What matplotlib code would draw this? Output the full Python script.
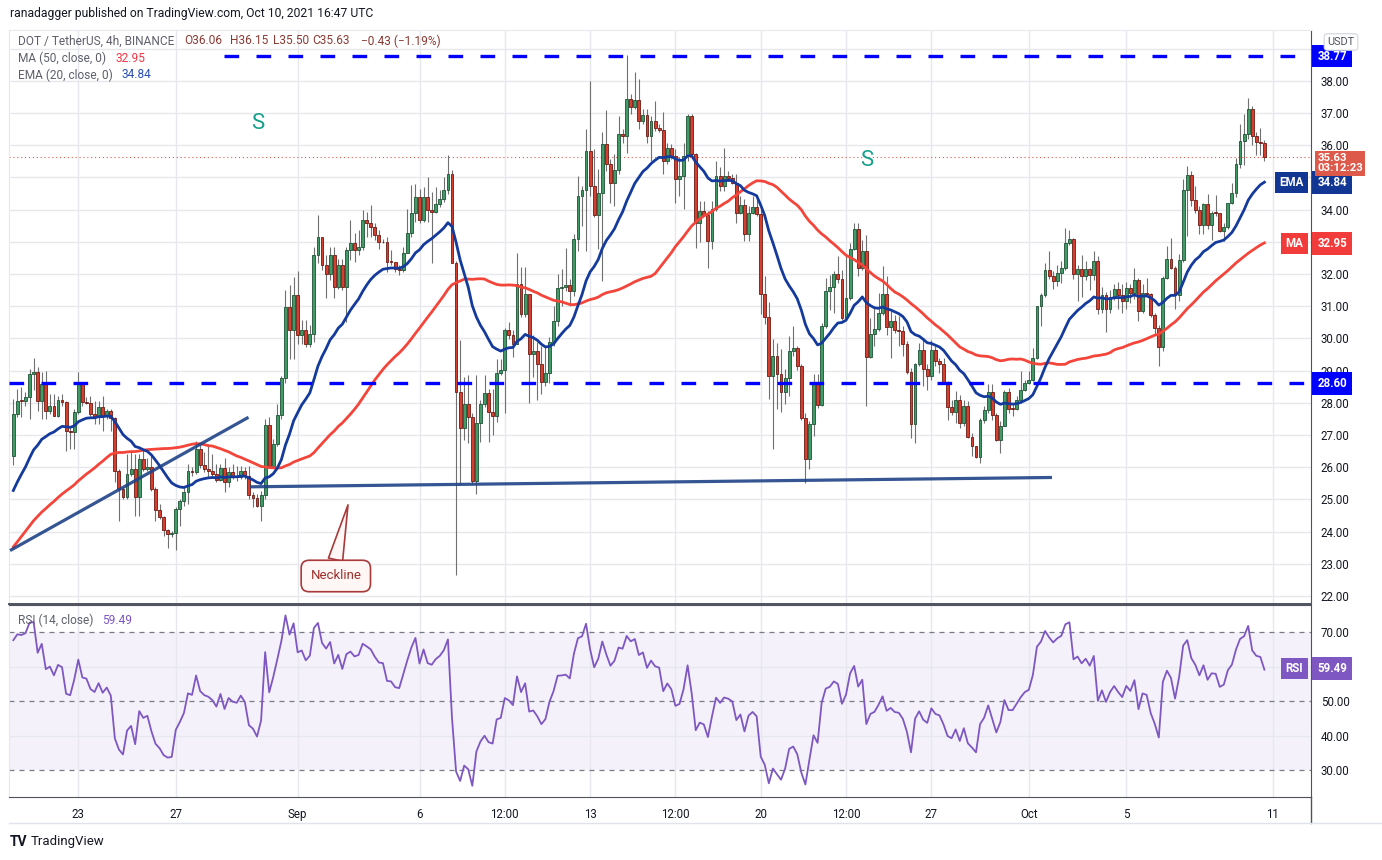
import matplotlib.pyplot as plt
import matplotlib.transforms as mtransforms
from matplotlib.lines import Line2D
import numpy as np
import pandas as pd

plt.rcParams['font.family'] = ['Roboto', 'DejaVu Sans']

# DOT / USDT, 4h candles on Binance, first visible bar opens 2021-08-20 08:00 UTC
start_time = '2021-08-20 08:00'
first_open = 26.36

closes = [
    27.65, 28.07, 28.05, 28.17, 28.90, 28.95, 28.07, 28.59, 27.76, 27.89,
    27.60, 28.09, 28.02, 27.13, 27.08, 27.70, 28.64, 28.04, 28.00, 27.65,
    27.55, 27.88, 27.58, 27.76, 27.52, 25.89, 25.32, 25.06, 25.79, 25.94,
    25.08, 26.25, 25.94, 26.02, 25.32, 24.68, 24.44, 24.06, 23.92, 23.94,
    24.70, 24.94, 25.22, 25.89, 25.84, 26.56, 26.07, 25.94, 25.89, 25.79,
    25.60, 25.96, 25.53, 25.84, 25.74, 25.71, 25.89, 25.74, 25.13, 25.03,
    24.80, 25.13, 27.31, 26.05, 26.72, 27.62, 28.76, 30.98, 30.25, 31.34,
    30.10, 30.25, 29.82, 30.15, 32.60, 33.15, 32.27, 32.01, 32.58, 31.60,
    32.27, 31.60, 32.74, 32.95, 32.74, 32.84, 33.67, 33.57, 33.46, 33.20,
    33.00, 32.98, 32.38, 32.36, 32.17, 32.14, 32.66, 33.26, 33.88, 34.40,
    33.67, 34.40, 33.98, 33.93, 34.19, 34.34, 34.60, 35.12, 32.35, 28.34,
    27.23, 27.95, 27.56, 25.57, 27.36, 27.95, 28.29, 27.72, 27.60, 28.94,
    29.03, 30.25, 30.10, 29.82, 31.70, 30.77, 31.39, 29.53, 29.60, 29.20,
    28.65, 28.92, 29.90, 30.55, 31.58, 31.60, 31.65, 31.48, 33.10, 34.43,
    34.60, 35.83, 34.72, 33.84, 34.51, 36.05, 35.41, 34.84, 35.23, 36.34,
    36.29, 37.43, 37.20, 37.40, 36.74, 36.93, 36.29, 36.76, 36.53, 36.48,
    35.52, 35.91, 35.67, 34.95, 35.03, 35.67, 36.91, 35.72, 33.58, 33.96,
    33.84, 33.03, 34.01, 35.03, 34.74, 35.03, 34.97, 34.84, 33.91, 34.15,
    33.24, 33.91, 34.07, 33.86, 31.37, 30.68, 28.84, 29.46, 28.89, 28.32,
    28.76, 29.60, 29.70, 29.13, 27.53, 26.25, 27.35, 28.57, 27.94, 30.38,
    31.46, 31.60, 32.01, 31.86, 30.64, 31.24, 32.79, 33.41, 32.19, 32.71,
    29.42, 30.15, 30.30, 30.79, 31.39, 30.36, 30.55, 30.27, 30.22, 29.83,
    28.96, 27.34, 29.19, 29.65, 29.05, 28.82, 29.65, 29.29, 29.20, 28.64,
    27.87, 27.72, 28.10, 27.37, 27.91, 26.94, 26.65, 26.32, 27.48, 27.77,
    28.34, 27.63, 26.84, 27.29, 28.34, 27.82, 27.81, 28.10, 28.39, 28.62,
    28.72, 29.39, 31.00, 31.36, 32.14, 31.93, 31.77, 32.03, 32.19, 32.96,
    33.10, 32.01, 32.16, 31.95, 32.17, 31.97, 32.41, 30.91, 31.35, 30.90,
    31.30, 31.55, 31.34, 31.17, 31.58, 31.42, 31.81, 30.85, 31.42, 31.37,
    30.73, 30.31, 29.72, 31.89, 32.48, 32.20, 31.34, 32.43, 34.61, 35.07,
    34.30, 34.00, 33.53, 34.17, 33.52, 33.91, 33.89, 33.34, 33.45, 34.20,
    34.51, 35.41, 36.14, 36.34, 37.12, 36.29, 36.10, 36.06, 35.63,
]

highs = [
    28.12, 28.43, 28.48, 28.33, 29.05, 29.39, 29.10, 28.95, 29.00, 28.27,
    28.27, 28.22, 28.27, 28.07, 27.29, 27.81, 28.95, 28.66, 28.17, 28.22,
    28.07, 28.07, 28.22, 27.81, 27.81, 27.55, 25.95, 25.37, 26.41, 26.46,
    26.41, 26.41, 26.56, 26.30, 26.36, 25.37, 24.85, 24.49, 24.08, 24.03,
    24.75, 25.01, 25.42, 26.10, 26.00, 26.82, 26.72, 26.46, 26.72, 26.41,
    26.10, 26.10, 26.30, 26.00, 26.10, 26.05, 26.05, 26.00, 26.05, 25.22,
    25.17, 25.27, 27.50, 27.55, 26.88, 27.96, 28.84, 31.50, 31.67, 31.91,
    32.09, 30.57, 30.57, 30.41, 32.84, 33.83, 33.15, 32.58, 32.84, 32.84,
    32.48, 32.48, 32.84, 33.67, 33.26, 33.36, 33.98, 33.93, 34.14, 33.57,
    33.36, 33.10, 33.15, 32.74, 32.38, 32.27, 32.84, 34.03, 34.76, 34.81,
    34.65, 34.71, 35.02, 34.55, 34.71, 34.60, 35.02, 35.69, 35.22, 32.40,
    29.96, 28.81, 28.86, 27.67, 28.86, 28.10, 28.86, 28.44, 28.44, 29.37,
    29.37, 30.31, 30.51, 30.25, 32.64, 32.22, 32.22, 31.39, 30.10, 29.90,
    29.77, 29.77, 30.04, 31.01, 32.00, 32.15, 32.82, 31.84, 33.24, 35.05,
    34.74, 36.50, 38.00, 35.88, 35.26, 36.40, 37.09, 35.57, 35.72, 36.91,
    36.50, 38.80, 37.59, 38.26, 38.05, 37.12, 37.12, 36.91, 37.38, 36.65,
    37.02, 36.08, 36.03, 35.88, 35.62, 36.08, 36.96, 36.96, 35.75, 34.27,
    34.27, 33.96, 34.27, 35.52, 35.31, 35.93, 35.20, 35.10, 35.10, 34.43,
    34.33, 34.12, 34.43, 34.43, 34.01, 31.94, 31.12, 29.98, 29.87, 29.67,
    29.05, 30.07, 30.38, 29.76, 29.19, 27.69, 27.43, 28.88, 28.88, 30.48,
    31.88, 31.98, 32.08, 32.55, 32.14, 32.55, 32.96, 33.59, 33.57, 33.07,
    33.22, 30.64, 31.00, 31.41, 32.24, 31.93, 30.84, 30.74, 30.69, 30.38,
    29.91, 29.08, 29.24, 29.86, 29.96, 29.19, 29.96, 29.76, 29.39, 29.39,
    28.67, 28.10, 28.36, 28.25, 28.10, 28.05, 27.06, 26.65, 27.53, 27.89,
    28.57, 28.57, 27.69, 27.43, 28.41, 28.46, 28.00, 28.20, 28.98, 28.72,
    28.98, 29.70, 31.02, 31.40, 32.34, 32.71, 32.08, 32.29, 32.40, 33.43,
    33.38, 33.12, 32.29, 32.60, 32.40, 32.20, 32.70, 32.55, 31.60, 31.45,
    31.50, 31.70, 31.75, 31.68, 31.74, 31.68, 32.18, 31.89, 31.68, 31.89,
    31.42, 30.80, 30.41, 31.94, 32.88, 33.13, 32.25, 32.62, 34.95, 35.36,
    35.20, 34.74, 34.12, 34.20, 34.48, 33.96, 34.45, 33.91, 33.60, 34.22,
    34.84, 35.60, 36.66, 36.97, 37.48, 37.22, 36.40, 36.55, 36.15,
]

lows = [
    26.07, 27.55, 27.55, 27.91, 27.50, 28.40, 27.76, 27.50, 27.50, 27.65,
    27.58, 27.55, 27.90, 26.51, 26.56, 26.56, 27.65, 27.91, 27.96, 27.60,
    27.34, 27.34, 27.13, 27.50, 27.13, 25.53, 24.34, 25.01, 25.01, 25.74,
    24.49, 24.49, 25.89, 25.89, 25.27, 24.34, 24.39, 23.87, 23.48, 23.82,
    23.44, 24.18, 24.80, 24.85, 25.74, 25.79, 25.99, 25.84, 25.68, 25.68,
    25.53, 25.58, 25.22, 25.37, 25.63, 25.58, 25.63, 25.63, 25.01, 24.75,
    24.75, 24.34, 25.01, 25.99, 25.99, 26.67, 27.50, 28.60, 29.37, 29.37,
    29.84, 29.82, 29.74, 29.74, 29.89, 32.33, 32.12, 31.24, 31.81, 31.24,
    31.55, 31.50, 30.51, 32.43, 32.38, 32.58, 32.74, 33.15, 33.15, 33.05,
    32.79, 32.95, 32.07, 32.27, 32.07, 31.96, 32.07, 32.64, 33.15, 33.62,
    33.57, 33.62, 33.62, 32.33, 33.88, 34.09, 34.24, 34.50, 32.33, 22.65,
    25.49, 26.84, 26.74, 25.49, 25.18, 26.79, 27.87, 26.79, 26.99, 27.41,
    28.86, 27.67, 29.99, 29.43, 29.82, 30.67, 30.67, 27.98, 28.80, 28.10,
    28.27, 28.52, 28.60, 29.77, 30.39, 31.01, 31.48, 31.01, 31.32, 32.72,
    33.50, 32.72, 34.43, 33.76, 32.77, 31.79, 35.20, 34.22, 34.12, 35.10,
    36.08, 35.77, 36.96, 37.12, 36.50, 36.65, 36.08, 35.52, 36.45, 36.40,
    35.10, 35.41, 35.57, 34.22, 34.43, 34.01, 35.52, 35.67, 32.82, 32.98,
    33.81, 32.20, 32.77, 33.96, 34.58, 34.58, 34.90, 34.79, 33.60, 33.86,
    33.03, 33.03, 33.86, 33.81, 30.75, 30.44, 28.11, 26.56, 27.80, 27.70,
    27.96, 28.20, 29.45, 29.03, 27.48, 25.51, 25.93, 26.96, 27.84, 27.89,
    30.33, 30.89, 30.79, 31.72, 30.58, 30.58, 31.20, 32.76, 31.93, 32.14,
    27.89, 29.39, 29.76, 30.22, 30.74, 30.12, 29.39, 30.17, 29.76, 29.45,
    28.88, 26.91, 26.75, 29.13, 28.51, 28.41, 28.72, 29.13, 28.93, 28.57,
    27.48, 27.63, 27.37, 27.22, 27.27, 26.91, 26.34, 26.29, 26.13, 27.37,
    27.69, 27.48, 26.81, 26.44, 27.27, 27.69, 27.58, 27.79, 28.00, 28.36,
    28.57, 28.67, 29.36, 30.38, 31.30, 31.83, 31.52, 31.62, 31.72, 32.14,
    32.91, 31.83, 31.15, 31.30, 31.80, 31.50, 31.80, 30.75, 30.80, 30.20,
    30.80, 31.20, 30.90, 30.80, 30.91, 31.11, 31.22, 30.54, 30.80, 31.32,
    30.65, 30.13, 29.15, 29.60, 31.84, 32.15, 30.90, 31.17, 32.36, 33.19,
    34.10, 33.90, 33.24, 33.24, 33.40, 33.05, 33.81, 33.29, 33.03, 33.39,
    34.17, 34.40, 35.30, 35.40, 36.20, 36.00, 35.70, 35.70, 35.50,
]

# closes before the visible window, only used to warm up MA / EMA / RSI
# (estimated from where those lines start on the left edge)
warmup_closes = [
    20.2, 19.9, 20.1, 20.4, 20.9,
    21.4, 21.9, 22.3, 22.0, 22.4, 22.1, 22.6, 22.3,
    22.5, 22.8, 22.4, 22.9, 22.6, 23.1, 22.7, 22.3, 22.6, 22.2, 22.5,
    23.8, 24.5, 25.1, 24.9, 25.4, 25.0, 25.3, 24.8, 25.2, 24.9,
    24.4, 23.9, 23.6, 23.8, 23.5, 23.9, 24.1, 23.8, 24.2, 24.4,
    25.6, 26.4, 27.1, 27.6, 26.36,
]

tick_dates = ['2021-08-23', '2021-08-27', '2021-09-01', '2021-09-06', '2021-09-09 12:00',
              '2021-09-13', '2021-09-16 12:00', '2021-09-20', '2021-09-23 12:00',
              '2021-09-27', '2021-10-01', '2021-10-05', '2021-10-11']
tick_labels = ['23', '27', 'Sep', '6', '12:00', '13', '12:00', '20', '12:00', '27', 'Oct', '5', '11']

resistance = 38.77
support = 28.60
# hand drawn lines, (bar index, price)
neckline_x = [58.3, 255.7]
neckline_y = [25.39, 25.68]
wedge_x = [-0.8, 57.9]
wedge_y = [23.41, 27.55]

last_ohlc = ['O36.06', 'H36.15', 'L35.50', 'C35.63', '\u22120.43 (\u22121.19%)']
ema_last = 34.84
ma_last = 32.95
rsi_last = 59.49
last_price = 35.63
countdown = '03:12:23'

# ---------------------------------------------------------------
W, H = 1382, 860


def fx(px):
    return px / W


def fy(py):
    return 1 - py / H


n = len(closes)
x = np.arange(n)
c = np.array(closes)
o = np.r_[first_open, c[:-1]]
hi = np.array(highs)
lo = np.array(lows)

full = pd.Series(warmup_closes + closes)
ema = full.ewm(span=20, adjust=False).mean().to_numpy()[-n:]
ma = full.rolling(50).mean().to_numpy()[-n:]
delta = full.diff()
gain = delta.clip(lower=0).ewm(alpha=1 / 14, adjust=False).mean()
loss = (-delta.clip(upper=0)).ewm(alpha=1 / 14, adjust=False).mean()
rsi = (100 - 100 / (1 + gain / loss)).to_numpy()[-n:]

t0 = pd.Timestamp(start_time)
tick_pos = [(pd.Timestamp(d) - t0) / pd.Timedelta(hours=4) for d in tick_dates]

fig = plt.figure(figsize=(W / 100, H / 100), dpi=100)
fig.patch.set_facecolor('white')
ax = fig.add_axes([fx(9), fy(604), fx(1311) - fx(9), fy(30) - fy(604)])
axr = fig.add_axes([fx(9), fy(797), fx(1311) - fx(9), fy(605) - fy(797)], sharex=ax)

grid_c = '#e6e8ee'
dark = '#50535e'
txt = '#131722'

# ---- price pane
up = c >= o
bottom = np.minimum(o, c)
height = np.maximum(np.abs(c - o), 0.03)
ax.vlines(x, lo, hi, color='#707070', lw=0.8, zorder=2)
ax.bar(x[up], height[up], bottom=bottom[up], width=0.7, color='#409b66',
       edgecolor='#1e5234', linewidth=0.6, zorder=3)
ax.bar(x[~up], height[~up], bottom=bottom[~up], width=0.7, color='#d63e2f',
       edgecolor='#6b1b13', linewidth=0.6, zorder=3)

ax.plot(x, ma, color='#f4453b', lw=2.0, zorder=4)
ax.plot(x, ema, color='#143a9c', lw=2.0, zorder=5)

ax.plot(wedge_x, wedge_y, color='#1f4287', lw=2.3, alpha=0.9, zorder=6, solid_capstyle='butt')
ax.plot(neckline_x, neckline_y, color='#1f4287', lw=2.3, alpha=0.9, zorder=6, solid_capstyle='butt')

ax.axhline(resistance, xmin=(224 - 9) / 1302, color='#0000ff', lw=2.4,
           ls=(0, (4.4, 5.2)), zorder=7)
ax.axhline(support, color='#0000ff', lw=2.4, ls=(0, (4.4, 5.2)), zorder=7)
ax.axhline(last_price, color='#e0594a', lw=0.8, ls=(0, (1, 2.5)), zorder=1)

ax.text(60.2, 36.69, 'S', color='#17a08c', fontsize=16, ha='center', va='center')
ax.text(210.2, 35.54, 'S', color='#17a08c', fontsize=16, ha='center', va='center')

ax.annotate('Neckline', xy=(82.4, 24.83), xytext=(79.4, 22.62), ha='center', va='center',
            fontsize=9.5, color='#a0302b', zorder=8,
            bbox=dict(boxstyle='round,pad=0.7,rounding_size=0.6', fc='#fff6f6', ec='#a83a3a', lw=1.2),
            arrowprops=dict(arrowstyle='wedge,tail_width=1.1,shrink_factor=0.5', fc='#fff6f6',
                            ec='#a83a3a', lw=1.2, relpos=(0.45, 1.0), shrinkA=0, shrinkB=0))

ax.set_xlim(-1.06, 319.47)
ax.set_ylim(21.75, 39.58)
price_ticks = [22, 23, 24, 25, 26, 27, 28, 29, 30, 31, 32, 34, 36, 37, 38]
ax.set_yticks(range(22, 40), minor=True)
ax.set_yticks(price_ticks)
ax.set_yticklabels(['%.2f' % v for v in price_ticks])
ax.yaxis.tick_right()
ax.tick_params(axis='y', which='both', length=0, pad=7, labelsize=8.3, labelcolor=txt)
ax.set_xticks(tick_pos)
ax.tick_params(axis='x', length=0, labelbottom=False)
ax.grid(True, which='both', color=grid_c, lw=1, zorder=0)
ax.set_axisbelow(True)

# ---- RSI pane
axr.axhspan(30, 70, color='#7e57c2', alpha=0.08, lw=0, zorder=0)
for lvl in (40, 60):
    axr.axhline(lvl, color=grid_c, lw=1, zorder=0)
for lvl in (30, 50, 70):
    axr.axhline(lvl, color='#787b86', lw=0.9, ls=(0, (4, 4)), zorder=1)
axr.plot(x, rsi, color='#7e57c2', lw=1.3, zorder=3)
axr.set_ylim(22.16, 77.93)
axr.set_yticks([30, 40, 50, 70])
axr.set_yticklabels(['30.00', '40.00', '50.00', '70.00'])
axr.yaxis.tick_right()
axr.tick_params(axis='y', length=0, pad=7, labelsize=8.3, labelcolor=txt)
axr.set_xticks(tick_pos)
axr.set_xticklabels(tick_labels)
axr.tick_params(axis='x', length=0, pad=8, labelsize=8.3, labelcolor=txt)
axr.grid(True, axis='x', color=grid_c, lw=1, zorder=0)
axr.set_axisbelow(True)

for a in (ax, axr):
    a.spines['left'].set_color(grid_c)
    a.spines['right'].set_color(dark)
    a.spines['top'].set_color(grid_c)
    a.spines['bottom'].set_color(dark)
axr.spines['top'].set_color(dark)
ax.spines['bottom'].set_linewidth(1.4)

fig.add_artist(Line2D([fx(1311), fx(1311)], [fy(797), fy(823)], color=dark, lw=1))
fig.add_artist(Line2D([fx(9), fx(1382)], [fy(823), fy(823)], color='#e0e3eb', lw=1))


# ---- axis tags
def tag(axis, y, text, bg, side='right', pad=0.42, size=8.3, spacing=1.2):
    tr = mtransforms.blended_transform_factory(axis.transAxes, axis.transData)
    if side == 'right':
        axis.annotate(text, xy=(1, y), xycoords=tr, xytext=(4.5, 0), textcoords='offset points',
                      ha='left', va='center', fontsize=size, color='white', fontweight='bold',
                      linespacing=spacing,
                      bbox=dict(boxstyle='square,pad=%.2f' % pad, fc=bg, ec='none'), zorder=20,
                      annotation_clip=False)
    else:
        axis.annotate(text, xy=(1, y), xycoords=tr, xytext=(-5.5, 0), textcoords='offset points',
                      ha='right', va='center', fontsize=size, color='white', fontweight='bold',
                      bbox=dict(boxstyle='square,pad=%.2f' % pad, fc=bg, ec='none'), zorder=20,
                      annotation_clip=False)


tag(ax, resistance, '%.2f' % resistance, '#0000ff')
tag(ax, support, '%.2f' % support, '#0000ff')
tag(ax, ema_last, '%.2f' % ema_last, '#123694')
tag(ax, ema_last, 'EMA', '#123694', side='left', pad=0.38)
tag(ax, 35.44, '%.2f\n%s' % (last_price, countdown), '#dd5a4b', pad=0.2, size=8.2, spacing=1.0)
tag(ax, ma_last, '%.2f' % ma_last, '#f23c3c')
tag(ax, ma_last, 'MA', '#f23c3c', side='left', pad=0.38)
tag(axr, rsi_last, '%.2f' % rsi_last, '#7e57c2')
tag(axr, rsi_last, 'RSI', '#7e57c2', side='left', pad=0.38)

fig.text(fx(1341), fy(42), 'USDT', ha='center', va='center', fontsize=7.8, color=dark,
         bbox=dict(boxstyle='round,pad=0.3', fc='white', ec='#d1d4dc', lw=0.8))

# ---- header / legend texts
gray = '#5d606b'
fig.text(fx(10), fy(14), 'ranadagger published on TradingView.com, Oct 10, 2021 16:47 UTC',
         fontsize=8.7, color=txt, va='center')
fig.text(fx(18), fy(41), 'DOT / TetherUS, 4h, BINANCE', fontsize=8.6, color=gray, va='center')
for px, s in zip([184, 230, 273, 312, 361], last_ohlc):
    fig.text(fx(px), fy(41), s, fontsize=8.6, color='#8a3a33', va='center')
fig.text(fx(18), fy(58), 'MA (50, close, 0)', fontsize=8.6, color=gray, va='center')
fig.text(fx(115), fy(58), '%.2f' % ma_last, fontsize=8.6, color='#f23645', va='center')
fig.text(fx(18), fy(75), 'EMA (20, close, 0)', fontsize=8.6, color=gray, va='center')
fig.text(fx(122), fy(75), '%.2f' % ema_last, fontsize=8.6, color='#2a4fb5', va='center')
fig.text(fx(18), fy(620), 'RSI (14, close)', fontsize=8.6, color=gray, va='center')
fig.text(fx(102), fy(620), '%.2f' % rsi_last, fontsize=8.6, color='#7e57c2', va='center')

fig.text(fx(10), fy(842), 'TV', fontsize=10, fontweight='bold', color=txt, va='center')
fig.text(fx(31), fy(842), 'TradingView', fontsize=9.5, color=txt, va='center')

fig.savefig('out.png', dpi=100)
